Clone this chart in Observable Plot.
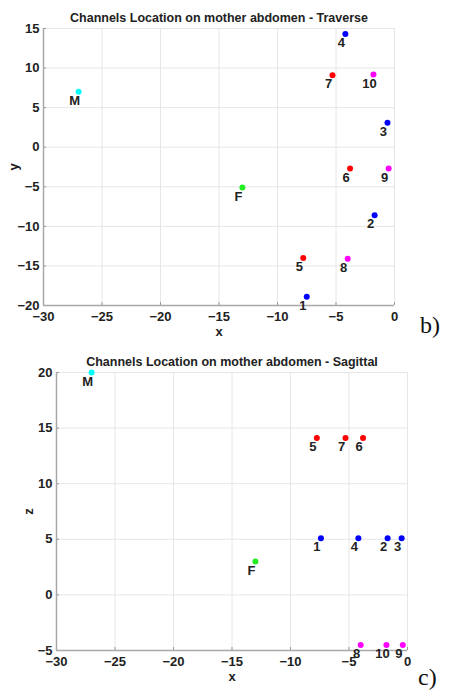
<!DOCTYPE html>
<html><head><meta charset="utf-8">
<script src="https://cdn.jsdelivr.net/npm/d3@7"></script>
<script src="https://cdn.jsdelivr.net/npm/@observablehq/plot@0.6"></script>
<style>
body{margin:0;background:#fff;}
#wrap{position:relative;width:451px;height:694px;background:#fff;font-family:"Liberation Sans",Arial,sans-serif;}
.pl{position:absolute;left:0;}
.tag{position:absolute;font-family:"Liberation Serif","Times New Roman",serif;font-size:24px;color:#111;}
</style></head>
<body><div id="wrap"></div>
<script>
const channels = ["1","2","3","4","5","6","7","8","9","10","M","F"];
const groups   = ["blue","blue","blue","blue","red","red","red","mag","mag","mag","M","F"];
const xTrav = [-7.5,-1.7,-0.6,-4.2,-7.8,-3.8,-5.3,-4.0,-0.5,-1.8,-27,-13];
const yTrav = [-18.9,-8.6,3.1,14.3,-14.0,-2.7,9.1,-14.1,-2.7,9.2,7,-5.1];
const xSag  = [-7.4,-1.7,-0.5,-4.2,-7.75,-3.8,-5.3,-4.0,-0.4,-1.8,-27,-13];
const zSag  = [5.1,5.1,5.1,5.1,14.1,14.1,14.1,-4.5,-4.5,-4.5,20,3];
const xTicks = [-30,-25,-20,-15,-10,-5,0];
const yTicks = [-20,-15,-10,-5,0,5,10,15];
const zTicks = [-5,0,5,10,15,20];
const colorDomain = ["blue","red","mag","M","F"];
const colorRange  = ["#0000ff","#ff0000","#ff00ff","#00ffff","#22ee22"];

const trav = channels.map((c,i)=>({c, g:groups[i], x:xTrav[i], y:yTrav[i]}));
const sag  = channels.map((c,i)=>({c, g:groups[i], x:xSag[i], y:zSag[i]}));

function chart(data, title, yLabel, yDomain, yT, dims){
  const ink = "#222";
  return Plot.plot({
    width: 451, height: dims.h,
    marginLeft: dims.l, marginRight: dims.r, marginTop: dims.t, marginBottom: dims.b,
    style: {fontFamily: '"Liberation Sans", Arial, sans-serif', fontSize: "13px", fontWeight: "bold", color: ink, background: "white"},
    x: {domain: [-30, 0]},
    y: {domain: yDomain},
    color: {domain: colorDomain, range: colorRange},
    marks: [
      Plot.gridX(xTicks, {stroke: "#e6e6e6", strokeOpacity: 1}),
      Plot.gridY(yT, {stroke: "#e6e6e6", strokeOpacity: 1}),
      Plot.axisX(xTicks, {tickSize: -3, tickPadding: 9, stroke: "#999", fill: ink, fontSize: 13, fontWeight: "bold", label: "x", labelAnchor: "center", labelArrow: "none", labelOffset: 30}),
      Plot.axisY(yT, {tickSize: -3, tickPadding: 7, stroke: "#999", fill: ink, fontSize: 13, fontWeight: "bold", label: yLabel, labelAnchor: "center", labelArrow: "none", labelOffset: dims.lo}),
      Plot.ruleX([-30], {stroke: "#a8a8a8", strokeWidth: 1.5}),
      Plot.ruleY([yDomain[0]], {stroke: "#a8a8a8", strokeWidth: 1.5}),
      Plot.dot(data, {x: "x", y: "y", r: 3, fill: "g", stroke: null}),
      Plot.text(data, {x: "x", y: "y", text: "c", dx: -4, dy: 9, fill: ink, fontSize: 13, fontWeight: "bold"}),
      Plot.text([title], {frameAnchor: "top", dy: dims.td, fill: ink, fontSize: 12.5, fontWeight: "bold"})
    ]
  });
}

const wrap = document.getElementById("wrap");
const p1 = chart(trav, "Channels Location on mother abdomen - Traverse", "y", [-20, 15], yTicks,
  {h: 340, l: 43, r: 57, t: 28, b: 35, lo: 35, td: -15});
p1.classList.add("pl"); p1.style.top = "0px";
wrap.appendChild(p1);

const p2 = chart(sag, "Channels Location on mother abdomen - Sagittal", "z", [-5, 20], zTicks,
  {h: 354, l: 56, r: 44, t: 32, b: 44, lo: 33, td: -15});
p2.classList.add("pl"); p2.style.top = "340px";
wrap.appendChild(p2);

const b = document.createElement("div"); b.className = "tag"; b.textContent = "b)";
b.style.left = "420px"; b.style.top = "312px"; wrap.appendChild(b);
const c = document.createElement("div"); c.className = "tag"; c.textContent = "c)";
c.style.left = "418px"; c.style.top = "664px"; wrap.appendChild(c);
</script></body></html>
